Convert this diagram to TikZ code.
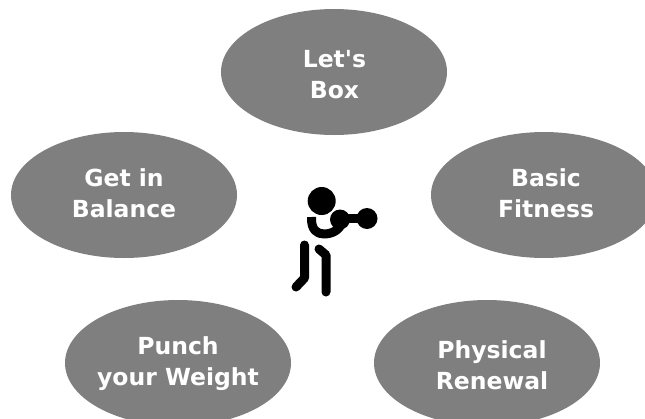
\documentclass[tikz,border=0pt]{standalone}
\usepackage{fontspec}
\setmainfont{DejaVu Sans}[BoldFont={DejaVu Sans Bold}]
\usetikzlibrary{shapes.geometric}
\definecolor{ellipsegray}{HTML}{7F7F7F}
\tikzset{
  blob/.style={ellipse,fill=ellipsegray,draw=none,minimum width=226pt,minimum height=126pt,inner sep=0pt},
  caption/.style={inner sep=0pt,text=white,align=center,font=\bfseries\fontsize{23.5}{31}\selectfont},
  limb/.style={line width=9pt,line cap=round,line join=round,black}
}
\begin{document}
\begin{tikzpicture}[x=1pt,y=-1pt]
\useasboundingbox (0,0) rectangle (645,418);
\clip (0,0) rectangle (645,418);
\node[blob] (box) at (334,72) {};
\node[blob] (balance) at (124,195) {};
\node[blob] (fitness) at (544,195) {};
\node[blob] (weight) at (178,363) {};
\node[blob] (renewal) at (487,363) {};
\node[caption] (boxtext) at (334.5,75) {Let\textquotesingle s\\Box};
\node[caption] (balancetext) at (124,193.5) {Get in\\Balance};
\node[caption] (fitnesstext) at (546,193.5) {Basic\\Fitness};
\node[caption] (weighttext) at (178,363.5) {Punch\\your Weight};
\node[caption] (renewaltext) at (492,365) {Physical\\Renewal};
% boxer
\fill (321.7,201) circle (14);
\fill (340,219.5) circle (10);
\fill (367,218.5) circle (10.5);
\draw[limb,line cap=butt] (345,218.5) -- (362,218.5);
\draw[limb,line cap=butt] (311.5,217) .. controls (311,230) and (317,234) .. (324,234) .. controls (332,234) and (340,230) .. (342,222);
\draw[limb] (304.5,245) -- (304.5,278) -- (296,287);
\draw[limb] (319,249) -- (326,255) -- (326,292);
\end{tikzpicture}
\end{document}
